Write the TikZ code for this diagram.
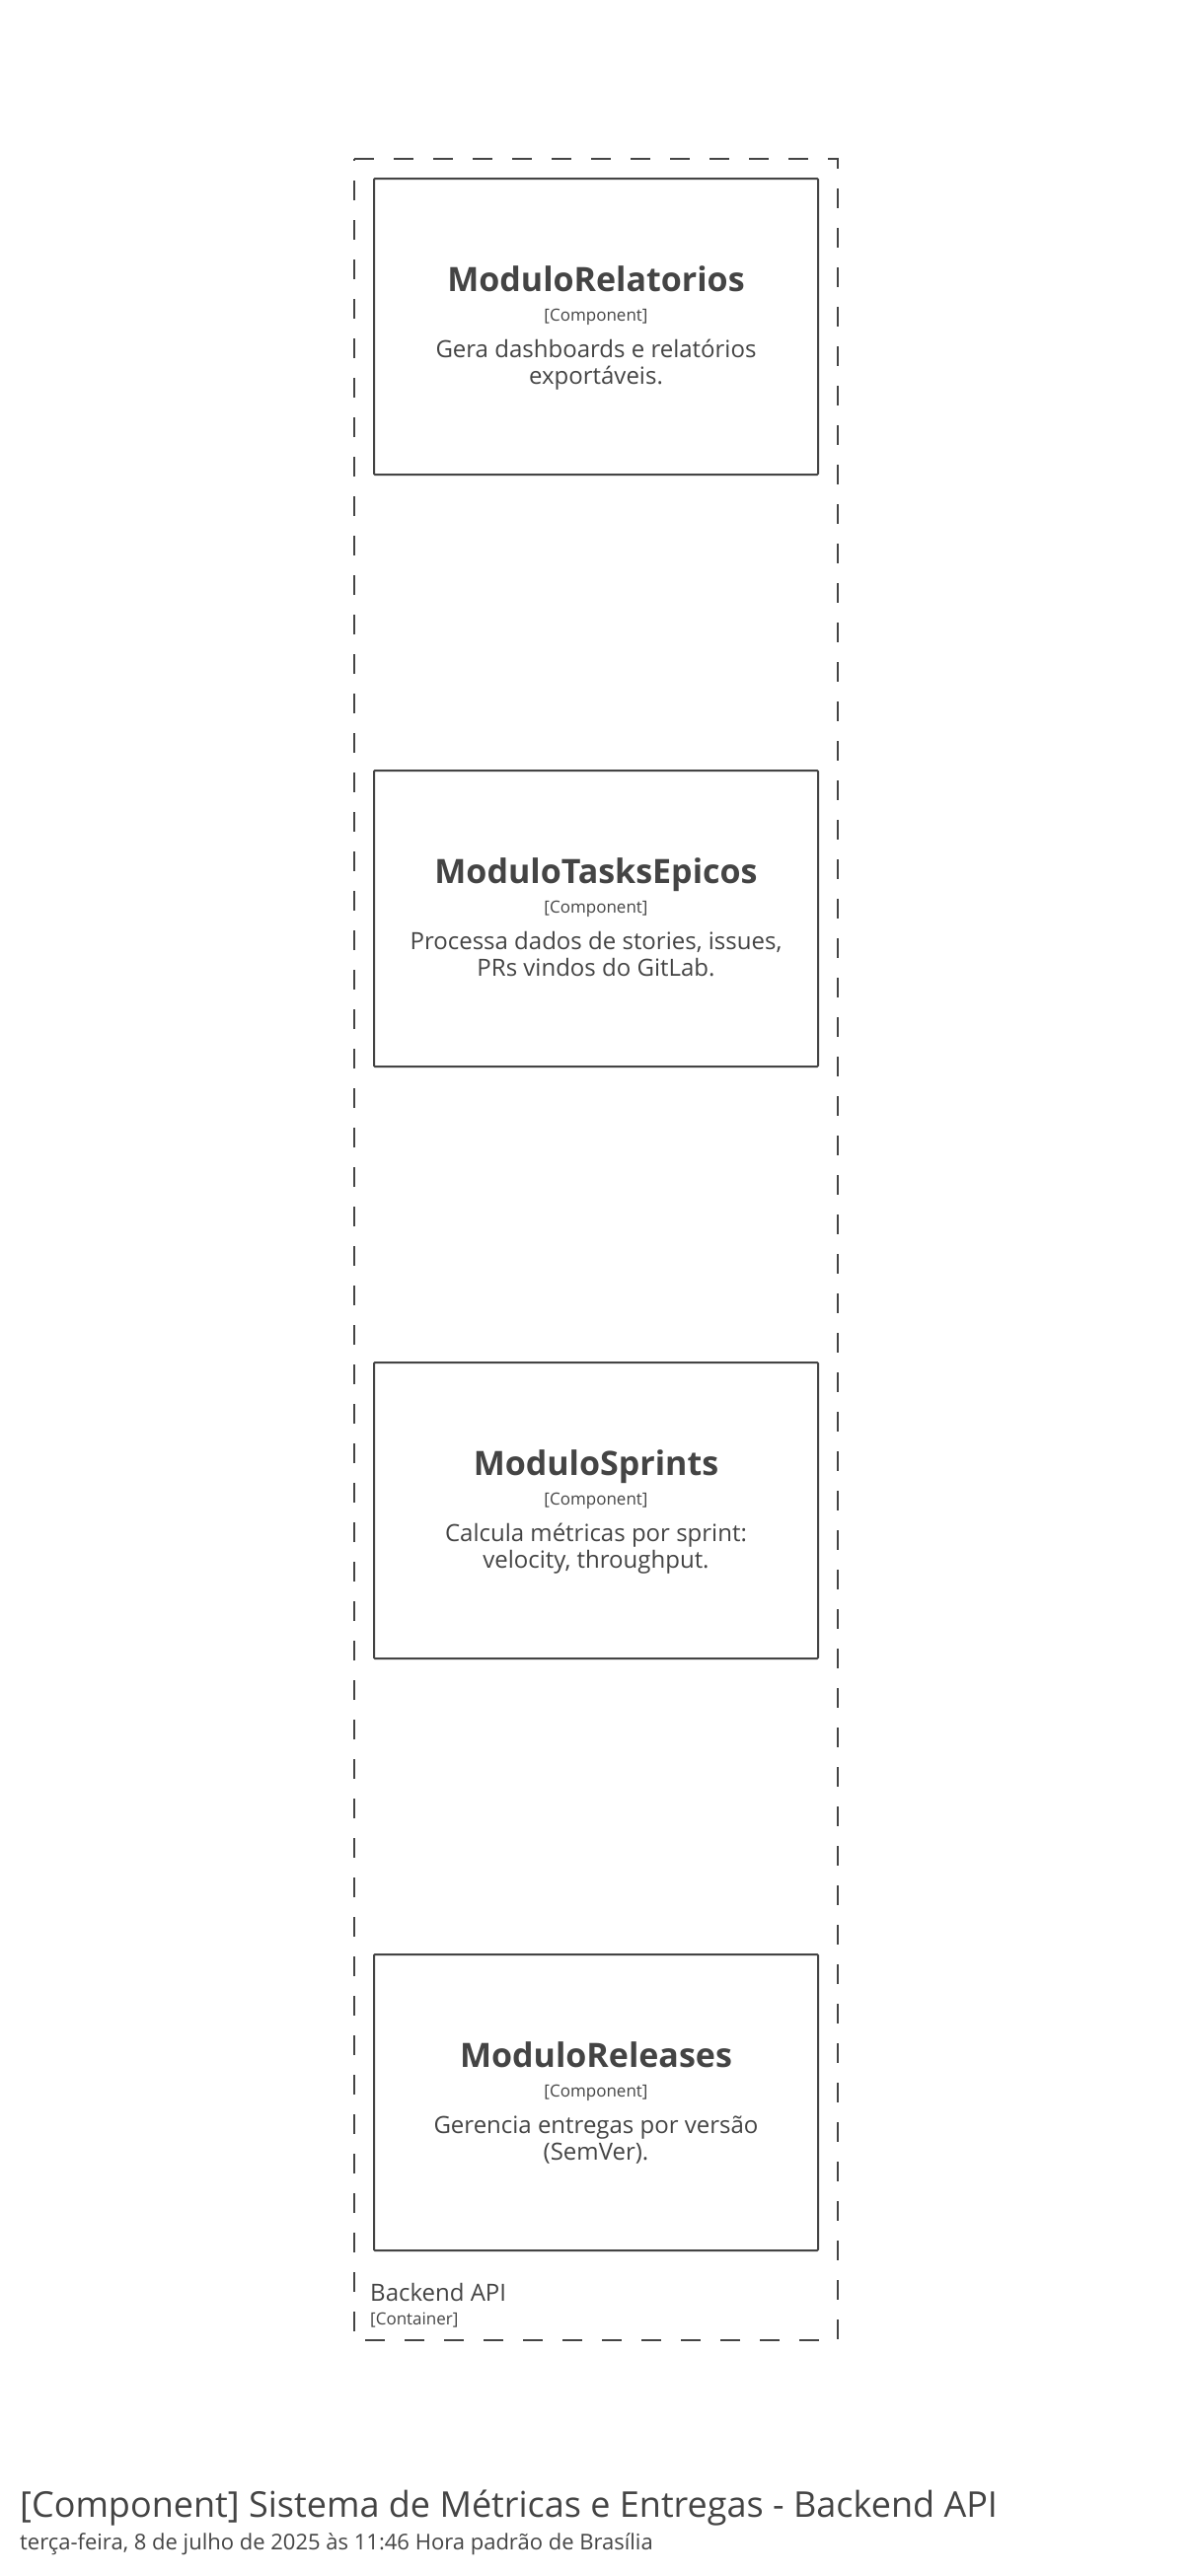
\documentclass[tikz,border=0pt]{standalone}
\usepackage{fontspec}
\setmainfont{Open Sans}
\definecolor{ink}{HTML}{444444}
\tikzset{
  compbox/.style={draw=ink, line width=2pt, rounded corners=1pt, minimum width=450pt, minimum height=300pt, inner sep=0pt},
  boundary/.style={draw=ink, line width=2pt, dash pattern=on 20pt off 20pt},
  ctitle/.style={anchor=base, text=ink, font=\fontsize{34}{40}\selectfont\bfseries, inner sep=0pt},
  ctype/.style={anchor=base, text=ink, font=\fontsize{17}{20}\selectfont, inner sep=0pt},
  cdesc/.style={anchor=base, text=ink, font=\fontsize{24}{29}\selectfont, inner sep=0pt},
  blabel/.style={anchor=base west, text=ink, inner sep=0pt},
}
\newcommand\mycomp[5]{%
  \node[compbox] (#1) at (604,#2+150) {};
  \node[ctitle] (#1t) at (604,#2+114) {#3};
  \node[ctype] (#1k) at (604,#2+144) {[Component]};
  \node[cdesc] (#1a) at (604,#2+181) {#4};
  \node[cdesc] (#1b) at (604,#2+208) {#5};
}
\begin{document}
\begin{tikzpicture}[x=1pt,y=-1pt]
\useasboundingbox (0,0) rectangle (1210,2611);
\fill[white] (0,0) rectangle (1210,2611);
\coordinate (bnw) at (359,161);
\coordinate (bne) at (849,161);
\coordinate (bse) at (849,2372);
\coordinate (bsw) at (359,2372);
\draw[boundary] (bnw) -- (bne) -- (bse) -- (bsw) -- cycle;
\mycomp{rel}{181}{ModuloRelatorios}{Gera dashboards e relatórios}{exportáveis.}
\mycomp{tasks}{781}{ModuloTasksEpicos}{Processa dados de stories, issues,}{PRs vindos do GitLab.}
\mycomp{spr}{1381}{ModuloSprints}{Calcula métricas por sprint:}{velocity, throughput.}
\mycomp{relz}{1981}{ModuloReleases}{Gerencia entregas por versão}{(SemVer).}
\node[blabel, font=\fontsize{24}{28}\selectfont] (bname) at (375,2332) {Backend API};
\node[blabel, font=\fontsize{17}{20}\selectfont] (btype) at (375,2356) {[Container]};
\node[blabel, font=\fontsize{36}{42}\selectfont] (title) at (20,2551) {[Component] Sistema de Métricas e Entregas - Backend API};
\node[blabel, font=\fontsize{22}{26}\selectfont] (sub) at (20,2584) {terça-feira, 8 de julho de 2025 às 11:46 Hora padrão de Brasília};
\end{tikzpicture}
\end{document}
